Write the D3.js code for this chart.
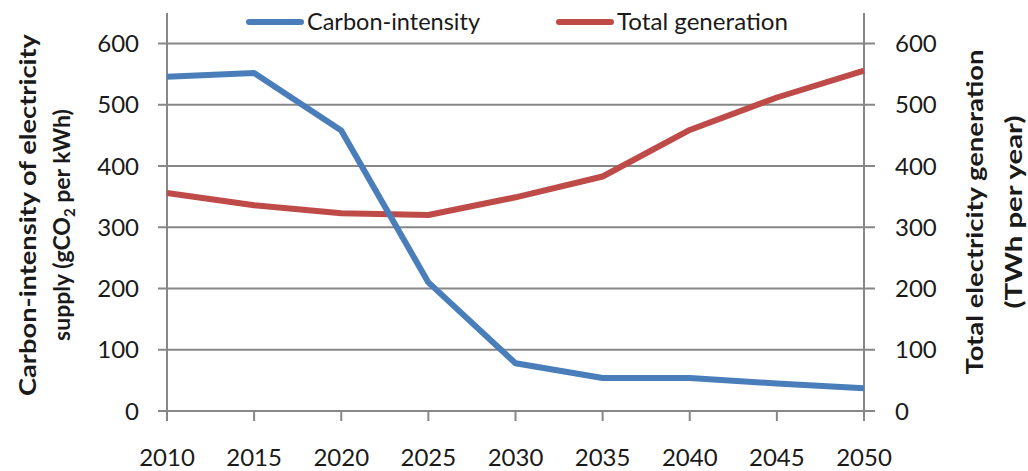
<!DOCTYPE html>
<html>
<head>
<meta charset="utf-8">
<script src="https://cdn.jsdelivr.net/npm/d3@7"></script>
<style>
  body { margin: 0; background: #fff; }
  svg text { font-family: Lato, "Open Sans", sans-serif; fill: #1a1a1a; }
  .axis-title { font-weight: bold; font-size: 23px; }
  .tick-label { font-size: 24px; }
  .legend-label { font-size: 23px; }
</style>
</head>
<body>
<div id="chart"></div>
<script>
// chart data
var years = [2010, 2015, 2020, 2025, 2030, 2035, 2040, 2045, 2050];
var carbonIntensity = [546, 552, 458, 210, 78, 54, 54, 45, 37];
var totalGeneration = [356, 336, 323, 320, 349, 383, 459, 512, 556];
var yTicks = [0, 100, 200, 300, 400, 500, 600];
var seriesNames = ["Carbon-intensity", "Total generation"];
var seriesColors = ["#4a7ebb", "#be4b48"];

var width = 1028, height = 471;
var margin = { top: 13, right: 164, bottom: 60, left: 167 };

var svg = d3.select("#chart").append("svg")
    .attr("width", width)
    .attr("height", height);

// scales
var x = d3.scaleLinear()
    .domain([2010, 2050])
    .range([margin.left, width - margin.right]);

var y = d3.scaleLinear()
    .domain([0, 650])
    .range([height - margin.bottom, margin.top]);

var y2 = y.copy();

var gridColor = "#878787";

// gridlines, extended past both axes like tick marks
svg.append("g").attr("class", "grid")
    .selectAll("line")
    .data(yTicks)
    .enter().append("line")
    .attr("x1", x(2010) - 9)
    .attr("x2", x(2050) + 11)
    .attr("y1", function(d) { return y(d); })
    .attr("y2", function(d) { return y(d); })
    .attr("stroke", gridColor)
    .attr("stroke-width", 2);

// vertical axis lines
[x(2010), x(2050)].forEach(function(px) {
    svg.append("line")
        .attr("x1", px).attr("x2", px)
        .attr("y1", y(650)).attr("y2", y(0))
        .attr("stroke", gridColor)
        .attr("stroke-width", 2);
});

// x ticks
svg.append("g").selectAll("line")
    .data(years)
    .enter().append("line")
    .attr("x1", function(d) { return x(d); })
    .attr("x2", function(d) { return x(d); })
    .attr("y1", y(0))
    .attr("y2", y(0) + 10)
    .attr("stroke", gridColor)
    .attr("stroke-width", 2);

svg.append("g").selectAll("text")
    .data(years)
    .enter().append("text")
    .attr("class", "tick-label")
    .attr("x", function(d) { return x(d); })
    .attr("y", y(0) + 55)
    .attr("text-anchor", "middle")
    .text(function(d) { return d; });

// y tick labels, left and right
svg.append("g").selectAll("text")
    .data(yTicks)
    .enter().append("text")
    .attr("class", "tick-label")
    .attr("x", x(2010) - 28)
    .attr("y", function(d) { return y(d); })
    .attr("dy", "0.36em")
    .attr("text-anchor", "end")
    .text(function(d) { return d; });

svg.append("g").selectAll("text")
    .data(yTicks)
    .enter().append("text")
    .attr("class", "tick-label")
    .attr("x", x(2050) + 31)
    .attr("y", function(d) { return y2(d); })
    .attr("dy", "0.36em")
    .attr("text-anchor", "start")
    .text(function(d) { return d; });

// lines
var carbonLine = d3.line()
    .x(function(d, i) { return x(years[i]); })
    .y(function(d) { return y(d); });

var genLine = d3.line()
    .x(function(d, i) { return x(years[i]); })
    .y(function(d) { return y2(d); });

svg.append("path")
    .datum(totalGeneration)
    .attr("fill", "none")
    .attr("stroke", seriesColors[1])
    .attr("stroke-width", 6)
    .attr("stroke-linejoin", "round")
    .attr("d", genLine);

svg.append("path")
    .datum(carbonIntensity)
    .attr("fill", "none")
    .attr("stroke", seriesColors[0])
    .attr("stroke-width", 6)
    .attr("stroke-linejoin", "round")
    .attr("d", carbonLine);

// legend
var legendX = [249, 559];
var legendW = [173, 171];
seriesNames.forEach(function(name, i) {
    var g = svg.append("g").attr("transform", "translate(" + legendX[i] + ",22)");
    g.append("line")
        .attr("x1", 0).attr("x2", 52)
        .attr("y1", 0).attr("y2", 0)
        .attr("stroke", seriesColors[i])
        .attr("stroke-width", 6)
        .attr("stroke-linecap", "round");
    g.append("text")
        .attr("class", "legend-label")
        .attr("x", 58)
        .attr("dy", "0.35em")
        .attr("textLength", legendW[i])
        .attr("lengthAdjust", "spacingAndGlyphs")
        .text(name);
});

// left axis title
var leftTitle = svg.append("text")
    .attr("class", "axis-title")
    .attr("transform", "translate(36,215) rotate(-90)")
    .attr("text-anchor", "middle");
leftTitle.append("tspan")
    .attr("x", 0).attr("y", 0)
    .attr("textLength", 362)
    .attr("lengthAdjust", "spacingAndGlyphs")
    .text("Carbon-intensity of electricity");
var line2 = leftTitle.append("tspan")
    .attr("x", -10).attr("y", 34);
line2.append("tspan").text("supply (gCO");
line2.append("tspan").attr("font-size", "15px").attr("dy", 5).text("2");
line2.append("tspan").attr("dy", -5).text(" per kWh)");

// right axis title
var rightTitle = svg.append("text")
    .attr("class", "axis-title")
    .attr("transform", "translate(983,212) rotate(-90)")
    .attr("text-anchor", "middle");
rightTitle.append("tspan")
    .attr("x", 0).attr("y", 0)
    .attr("textLength", 325)
    .attr("lengthAdjust", "spacingAndGlyphs")
    .text("Total electricity generation");
rightTitle.append("tspan")
    .attr("x", 0).attr("y", 39)
    .attr("textLength", 193)
    .attr("lengthAdjust", "spacingAndGlyphs")
    .text("(TWh per year)");
</script>
</body>
</html>
